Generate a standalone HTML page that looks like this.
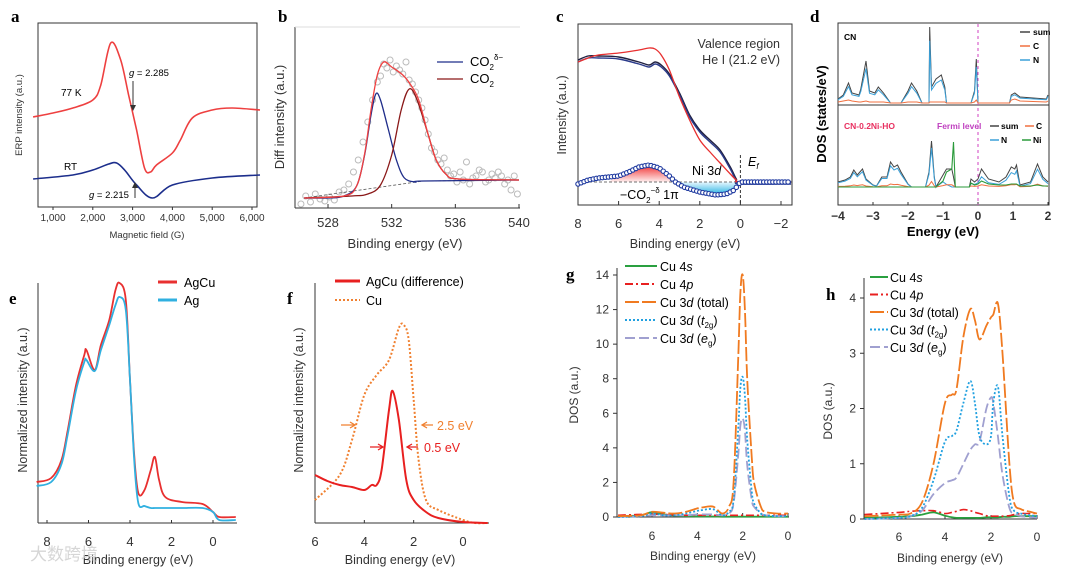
<!DOCTYPE html>
<html><head><meta charset="utf-8">
<style>
html,body{margin:0;padding:0;background:#fff;}
svg{display:block;font-family:"Liberation Sans","Noto Sans CJK SC",sans-serif;}
.lbl{font-family:"Liberation Serif",serif;font-weight:bold;font-size:17px;}
.tk{fill:#333;}
</style></head><body>
<svg id="fig" width="1080" height="572" viewBox="0 0 1080 572" xmlns="http://www.w3.org/2000/svg">
<defs>
<linearGradient id="gr" x1="0" y1="0" x2="0" y2="1"><stop offset="0" stop-color="#f03030"/><stop offset="1" stop-color="#fff0f0"/></linearGradient>
<linearGradient id="gb" x1="0" y1="0" x2="0" y2="1"><stop offset="0" stop-color="#e8f8ff"/><stop offset="1" stop-color="#20b0e0"/></linearGradient>
</defs>
</svg>
<script>
// ---------- panel a data ----------
const aX77=[500,1000,1500,2000,2200,2450,2700,2900,3100,3300,3450,3600,4000,4200,4500,5000,5500,6200];
const aY77=[93,97,102,110,125,167,150,115,80,42,38,45,57,70,92,100,102,100];
const aXRT=[500,1500,2000,2400,2600,2800,3100,3500,4000,5000,6200];
const aYRT=[31,35,40,46,47,40,25,12,25,32,35];
const aTicks=[1000,2000,3000,4000,5000,6000];
const aTickLabels=["1,000","2,000","3,000","4,000","5,000","6,000"];
// ---------- panel b data ----------
const bXBase=[526.5,534,540];
const bYBase=[2,19,20];
const bXBlue=[526.5,528,529,529.8,530.3,530.7,531,531.3,531.8,532.3,532.8,533.5,534,540];
const bYBlue=[2,2,4,14,45,85,106,100,70,40,22,18,19,20];
const bXRed=[526.5,529.5,530.5,531.3,532,532.6,533.1,533.6,534.3,534.8,535.4,536.2,540];
const bYRed=[2,4,6,15,45,90,111,100,65,40,26,21,20];
const bXSum=[526.5,529,529.8,530.3,530.7,531.1,531.5,532,532.7,533.2,533.7,534.3,534.8,535.4,536.2,540];
const bYSum=[2,4,14,46,90,125,138,133,125,115,100,65,40,26,21,20];
const bXPts=[526.3,526.6,526.9,527.2,527.5,527.8,528.1,528.4,528.7,529,529.3,529.6,529.9,530.2,530.5,530.8,531.1,531.3,531.5,531.7,531.9,532.1,532.3,532.5,532.7,532.9,533.1,533.3,533.5,533.7,533.9,534.1,534.3,534.5,534.7,534.9,535.1,535.3,535.5,535.7,535.9,536.1,536.3,536.5,536.7,536.9,537.1,537.3,537.5,537.7,537.9,538.1,538.3,538.5,538.7,538.9,539.1,539.3,539.5,539.7,539.9];
const bYPts=[-4,4,-2,6,1,-1,3,0,8,10,16,28,40,58,78,100,118,124,136,132,140,128,134,130,126,138,120,116,108,100,92,80,66,52,48,40,36,42,30,24,26,18,28,20,38,16,22,24,30,28,18,20,26,22,28,24,16,20,10,24,6];
const bTicks=[528,532,536,540];
// ---------- panel c data ----------
const cX=[8,7.5,7,6,5,4.5,4.2,3.9,3.5,3,2.5,2,1.5,1,0.5,0.2,0,-2.5];
const cYRed=[120,124,127,129,132,134,133,127,112,85,62,42,30,19,8,2,0,0];
const cYDark=[122,126,126,125,120,117,120,117,108,89,67,52,42,32,15,3,0,0];
const cXDiff=[8,7.5,7,6,5.5,5,4.5,4,3.5,3.2,2.8,2,1.2,0.7,0.3,0,-0.5,-2.5];
const cYDiff=[-2,2,4,6,10,15,17,14,6,0,-5,-10,-13,-12,-8,0,0,0];
const cTicks=[8,6,4,2,0,-2];
// ---------- panel d data ----------
const dXTop=[-4,-3.85,-3.7,-3.6,-3.4,-3.35,-3.2,-3.1,-2.95,-2.85,-2.7,-2.5,-2.2,-2.0,-1.9,-1.75,-1.6,-1.4,-1.38,-1.33,-1.2,-1.05,-0.95,-0.9,-0.2,-0.1,-0.05,0,0.9,0.95,1.05,1.2,1.95,2];
const dYTopSum=[4,8,20,10,8,14,42,12,10,16,10,0,0,12,20,12,0,0,76,16,24,28,16,0,0,12,44,0,0,8,10,6,4,8];
const dYTopC=[1,2,3,2,1,1,2,1,1,1,1,0,0,1,1,1,0,0,1,1,1,1,1,0,0,1,3,0,0,3,4,2,1,2];
const dXBot=[-4,-3.8,-3.65,-3.55,-3.45,-3.4,-3.3,-3.2,-3.0,-2.9,-2.75,-2.6,-2.5,-2.4,-2.3,-2.2,-2.0,-1.9,-1.5,-1.4,-1.33,-1.25,-1.2,-1.0,-0.9,-0.75,-0.7,-0.65,-0.25,-0.2,-0.1,0,0.1,0.3,0.6,0.8,0.95,1.05,1.1,1.2,1.5,1.7,1.85,2];
const dYBotSum=[5,7,10,17,12,14,18,8,2,1,10,10,25,20,22,15,3,0,0,15,46,10,0,12,18,18,10,0,0,8,5,8,18,8,5,10,20,18,22,2,5,23,10,5];
const dYBotNi=[0,0,0,0,0,0,0,0,0,0,0,0,0,0,0,0,0,0,0,0,0,0,0,6,15,18,45,0,0,4,2,3,6,3,2,2,3,3,3,1,1,2,1,1];
const dTicks=[-4,-3,-2,-1,0,1,2];
// ---------- panel e data ----------
const eX=[8.5,7.8,7.3,7,6.6,6.2,6.1,5.7,5.4,5,4.7,4.5,4.2,4,3.8,3.6,3.3,3,2.8,2.6,2.3,1.5,0.5,0,-0.3,-1.1];
const eYAgCu=[38,42,60,90,135,165,170,150,175,200,230,237,220,140,65,27,30,50,63,40,23,18,16,8,3,3];
const eYAg=[34,38,56,86,130,158,160,149,170,195,215,223,210,140,60,17,14,12,12,12,12,12,12,8,0,0];
const eTicks=[8,6,4,2,0];
// ---------- panel f data ----------
const fXCu=[6,5,4.5,4,3.5,3,2.6,2.4,2.2,2,1.8,1.5,1,0,-0.5,-1];
const fYCu=[23,48,83,128,148,163,195,198,183,123,63,23,13,3,0,0];
const fXDiff=[6,5.5,5,4.5,4,3.7,3.5,3.3,3,2.85,2.6,2.3,2,1.5,1,0,-1];
const fYDiff=[48,42,38,36,33,38,38,53,113,132,103,43,23,11,5,1,0];
const fTicks=[6,4,2,0];
// ---------- panel g data ----------
const gX=[7.5,6.5,6,5.5,5,4.5,4,3.8,3.3,2.9,2.6,2.4,2.2,2.1,2.0,1.9,1.8,1.6,1.5,1.2,1.0,0.5,0];
const gTotal=[0.05,0.1,0.3,0.25,0.2,0.3,0.5,0.55,0.6,0.2,0.6,2,9,13,14,12,8,3.5,2,0.6,0.3,0.2,0.2];
const gT2g=[0,0.05,0.2,0.1,0.1,0.2,0.35,0.4,0.45,0.1,0.3,1,5,7.5,8.1,7,4.5,1.5,0.8,0.2,0.1,0.05,0.05];
const gEg=[0,0.05,0.1,0.1,0.1,0.1,0.15,0.15,0.15,0.1,0.2,0.8,3.5,5.3,5.7,5,3,1,0.6,0.2,0.1,0.05,0.05];
const g4s=[0.02,0.1,0.28,0.15,0.08,0.05,0.03,0.03,0.03,0.02,0.02,0.02,0.02,0.02,0.02,0.02,0.02,0.02,0.02,0.02,0.02,0.02,0.02];
const g4p=[0.1,0.15,0.15,0.15,0.12,0.1,0.1,0.1,0.1,0.1,0.1,0.1,0.1,0.1,0.1,0.1,0.1,0.1,0.1,0.1,0.1,0.1,0.1];
const gXTicks=[6,4,2,0];
const gYTicks=[0,2,4,6,8,10,12,14];
// ---------- panel h data ----------
const hX=[7.5,6,5.5,5,4.5,4,3.7,3.5,3.2,2.9,2.7,2.5,2.2,2.0,1.9,1.7,1.5,1.2,1.0,0.7,0.5,0];
const hTotal=[0.05,0.08,0.1,0.3,1,2.1,2.25,2.35,3.3,3.8,3.6,3.25,3.5,3.65,3.7,3.9,3,1,0.3,0.18,0.15,0.1];
const hT2g=[0,0.02,0.05,0.2,0.7,1.4,1.5,1.6,2.1,2.5,2.1,1.5,1.35,1.5,2.1,2.4,1.5,0.4,0.15,0.1,0.08,0.05];
const hEg=[0,0.02,0.05,0.15,0.45,0.65,0.7,0.75,1,1.25,1.35,1.4,2,2.2,2.1,1.5,0.8,0.2,0.1,0.05,0.04,0.02];
const h4p=[0.08,0.12,0.14,0.15,0.15,0.1,0.12,0.14,0.17,0.15,0.12,0.1,0.06,0.05,0.05,0.05,0.05,0.06,0.08,0.1,0.1,0.1];
const h4s=[0.02,0.04,0.05,0.08,0.12,0.06,0.03,0.02,0.02,0.02,0.02,0.02,0.03,0.03,0.03,0.03,0.04,0.04,0.05,0.05,0.05,0.05];
const hXTicks=[6,4,2,0];
const hYTicks=[0,1,2,3,4];

const NS="http://www.w3.org/2000/svg";
const svg=document.getElementById('fig');
function el(tag,attrs,parent){const e=document.createElementNS(NS,tag);for(const k in attrs)e.setAttribute(k,attrs[k]);(parent||svg).appendChild(e);return e;}
function txt(x,y,s,attrs){const t=el('text',Object.assign({x:x,y:y},attrs||{}));t.innerHTML=s;return t;}
function pathD(xs,ys,sx,sy,smooth){
  const P=xs.map((x,i)=>[sx(x),sy(ys[i])]);
  let d='M'+P[0][0].toFixed(1)+','+P[0][1].toFixed(1);
  for(let i=1;i<P.length;i++){
    if(!smooth){d+='L'+P[i][0].toFixed(1)+','+P[i][1].toFixed(1);continue;}
    const p0=P[i-2]||P[i-1],p1=P[i-1],p2=P[i],p3=P[i+1]||P[i];
    const c1=[p1[0]+(p2[0]-p0[0])/6,p1[1]+(p2[1]-p0[1])/6],c2=[p2[0]-(p3[0]-p1[0])/6,p2[1]-(p3[1]-p1[1])/6];
    d+='C'+c1.map(v=>v.toFixed(1))+' '+c2.map(v=>v.toFixed(1))+' '+p2[0].toFixed(1)+','+p2[1].toFixed(1);
  }
  return d;
}
function series(name,xs,ys,sx,sy,style,smooth){
  const p=el('path',Object.assign({d:pathD(xs,ys,sx,sy,smooth!==false),fill:'none'},style));
  
  
  return p;
}
function lin(d0,d1,r0,r1){return v=>r0+(v-d0)*(r1-r0)/(d1-d0);}
function xticks(vals,labels,sx,y0,ly,name,len,fs,fw){
  vals.forEach((v,i)=>{
    const l=el('line',{x1:sx(v),x2:sx(v),y1:y0,y2:y0+(len||4),stroke:'#333','stroke-width':1});
    
    
    const t=txt(sx(v),ly,labels?labels[i]:String(v).replace('-','−'),{'text-anchor':'middle',class:'tk','font-size':(fs||11)+'px','font-weight':fw||'normal'});
    
    
  });
}
function yticks(vals,sy,x0,name,fs){
  vals.forEach(v=>{
    const l=el('line',{x1:x0-4,x2:x0,y1:sy(v),y2:sy(v),stroke:'#333'});
    
    
    const t=txt(x0-8,sy(v)+4,String(v),{'text-anchor':'end',class:'tk','font-size':(fs||11)+'px'});
    
    
  });
}
function label(x,y,s,name,attrs){const t=txt(x,y,s,attrs);return t;}
function vlabel(cx,cy,s,name,attrs){return label(0,0,s,name,Object.assign({transform:`translate(${cx},${cy}) rotate(-90)`,'text-anchor':'middle'},attrs||{}));}
function rect(x,y,w,h,name){const r=el('rect',{x:x,y:y,width:w,height:h,fill:'none',stroke:'#333','stroke-width':1});}

// ===== Panel a =====
label(11,22,'a','panel-label-a',{class:'lbl'});
rect(38,23,219,184,'plot-frame-a');
const ax=lin(1000,6000,53,252), ay=v=>210-v;
xticks(aTicks,aTickLabels,ax,207,221,'a-x',3,10);
label(147,238,'Magnetic field (G)','x-axis-title-a',{'text-anchor':'middle','font-size':'9.5px',fill:'#333'});
vlabel(22,115,'ERP intensity (a.u.)','y-axis-title-a',{'font-size':'9.5px',fill:'#333'});
series('series-77k',aX77,aY77,ax,ay,{stroke:'#ee4040','stroke-width':1.6});
series('series-rt',aXRT,aYRT,ax,ay,{stroke:'#1c2e8c','stroke-width':1.6});
label(61,96,'77 K','label-77k',{'font-size':'10px'});
label(64,170,'RT','label-rt',{'font-size':'10px'});
label(129,76,'<tspan font-style="italic">g</tspan> = 2.285','label-g-77k',{'font-size':'9.5px'});
el('line',{x1:133,y1:81,x2:133,y2:108,stroke:'#333'});
el('path',{d:'M130,105 L133,111 L136,105 Z',fill:'#333'});
label(89,198,'<tspan font-style="italic">g</tspan> = 2.215','label-g-rt',{'font-size':'9.5px'});
el('line',{x1:135,y1:198,x2:135,y2:185,stroke:'#333'});
el('path',{d:'M132,188 L135,182 L138,188 Z',fill:'#333'});

// ===== Panel b =====
label(278,22,'b','panel-label-b',{class:'lbl'});
el('line',{x1:295,y1:27,x2:295,y2:208,stroke:'#333'});
el('line',{x1:295,y1:208,x2:520,y2:208,stroke:'#333'});
el('line',{x1:295,y1:27,x2:520,y2:27,stroke:'#ddd'});
const bx=lin(528,540,328,519), by=v=>200-v;
xticks(bTicks,null,bx,208,227,'b-x',-4,13);
label(405,248,'Binding energy (eV)','x-axis-title-b',{'text-anchor':'middle','font-size':'13px',fill:'#333'});
vlabel(284,117,'Diff intensity (a.u.)','y-axis-title-b',{'font-size':'13px',fill:'#333'});
bXPts.forEach((x,i)=>{const c=el('circle',{cx:bx(x),cy:by(bYPts[i]),r:3,fill:'none',stroke:'#bbb','stroke-width':1});
  
  });
series('b-baseline',bXBase,bYBase,bx,by,{stroke:'#555','stroke-dasharray':'3,2','stroke-width':0.8},false);
series('series-co2-delta',bXBlue,bYBlue,bx,by,{stroke:'#1f2d8a','stroke-width':1.3});
series('series-co2',bXRed,bYRed,bx,by,{stroke:'#8a1818','stroke-width':1.3});
series('series-b-sum',bXSum,bYSum,bx,by,{stroke:'#f04040','stroke-width':1.3});
el('line',{x1:437,x2:463,y1:62,y2:62,stroke:'#1f2d8a','stroke-width':1.3});
label(470,66,'CO<tspan font-size="8" dy="4">2</tspan><tspan font-size="8" dy="-10">δ−</tspan>','legend-co2-delta',{'font-size':'13px'});
el('line',{x1:437,x2:463,y1:79,y2:79,stroke:'#8a1818','stroke-width':1.3});
label(470,83,'CO<tspan font-size="8" dy="4">2</tspan>','legend-co2',{'font-size':'13px'});

// ===== Panel c =====
label(556,22,'c','panel-label-c',{class:'lbl'});
rect(578,24,214,181,'plot-frame-c');
const cx=lin(8,-2,578,781), cy=v=>182-v;
xticks(cTicks,null,cx,205,228,'c-x',-4,13);
label(685,248,'Binding energy (eV)','x-axis-title-c',{'text-anchor':'middle','font-size':'12.5px',fill:'#333'});
vlabel(566,115,'Intensity (a.u.)','y-axis-title-c',{'font-size':'12.5px',fill:'#333'});
(function(){
  let d1='M'+cx(6.5)+','+cy(0), d2='M'+cx(3.2)+','+cy(0);
  cXDiff.forEach((x,i)=>{if(x<=6.5&&x>=3.2)d1+='L'+cx(x)+','+cy(cYDiff[i]);if(x<=3.2&&x>=0)d2+='L'+cx(x)+','+cy(cYDiff[i]);});
  const f1=el('path',{d:d1+'Z',fill:'url(#gr)'});
  const f2=el('path',{d:d2+'Z',fill:'url(#gb)'});
})();
el('line',{x1:584,x2:792,y1:cy(0),y2:cy(0),stroke:'#444','stroke-dasharray':'3,2','stroke-width':0.8});
el('line',{x1:cx(0),x2:cx(0),y1:155,y2:205,stroke:'#333','stroke-dasharray':'3,2','stroke-width':1});
series('series-c-dark1',cX,cYDark,cx,cy,{stroke:'#202040','stroke-width':1.4});
series('series-c-dark2',cX,cYDark.map(v=>v-2),cx,cy,{stroke:'#2a3a8a','stroke-width':1.4});
series('series-c-red',cX,cYRed,cx,cy,{stroke:'#e83030','stroke-width':1.3});
series('series-c-diff',cXDiff,cYDiff,cx,cy,{stroke:'#1f3aa0','stroke-width':1.2});
for(let e=8;e>=-2.5;e-=0.15){let k=0;while(k<cXDiff.length-2&&cXDiff[k+1]>e)k++;
  const t=(e-cXDiff[k])/(cXDiff[k+1]-cXDiff[k]);const v=cYDiff[k]+t*(cYDiff[k+1]-cYDiff[k]);
  const c=el('circle',{cx:cx(e),cy:cy(v),r:2.2,fill:'#fff',stroke:'#1f3aa0','stroke-width':1.1});
  
  }
label(780,48,'Valence region','label-valence',{'text-anchor':'end','font-size':'12.5px',fill:'#333'});
label(780,64,'He I (21.2 eV)','label-he',{'text-anchor':'end','font-size':'12.5px',fill:'#333'});
label(692,175,'Ni 3<tspan font-style="italic">d</tspan>','label-ni3d',{'font-size':'12.5px'});
label(748,166,'<tspan font-style="italic">E</tspan><tspan font-size="8" dy="3" font-style="italic">f</tspan>','label-ef',{'font-size':'12.5px'});
label(620,199,'−CO<tspan font-size="8" dy="4">2</tspan><tspan font-size="8" dy="-10">−δ</tspan><tspan dy="6"> 1π</tspan>','label-co2-pi',{'font-size':'12.5px'});

// ===== Panel d =====
label(810,22,'d','panel-label-d',{class:'lbl'});
rect(838,23,211,182,'plot-frame-d');
el('line',{x1:838,x2:1049,y1:105,y2:105,stroke:'#333'});
const dx=lin(-4,2,838,1048), dyT=v=>103-v, dyB=v=>187-v;
xticks(dTicks,null,dx,205,220,'d-x',-3,12,'bold');
label(943,236,'Energy (eV)','x-axis-title-d',{'text-anchor':'middle','font-size':'13px','font-weight':'bold'});
vlabel(826,114,'DOS (states/eV)','y-axis-title-d',{'font-size':'13px','font-weight':'bold'});
el('line',{x1:dx(0),x2:dx(0),y1:24,y2:205,stroke:'#d040c0','stroke-dasharray':'3,3','stroke-width':1});
series('d-top-sum',dXTop,dYTopSum,dx,dyT,{stroke:'#444','stroke-width':1},false);
series('d-top-n',dXTop,dYTopSum.map(v=>v*0.82),dx,dyT,{stroke:'#3aa0d8','stroke-width':1},false);
series('d-top-c',dXTop,dYTopC,dx,dyT,{stroke:'#f07040','stroke-width':1},false);
series('d-bot-sum',dXBot,dYBotSum,dx,dyB,{stroke:'#444','stroke-width':1},false);
series('d-bot-n',dXBot,dYBotSum.map((v,i)=>Math.max(0,(v-dYBotNi[i])*0.85)),dx,dyB,{stroke:'#3aa0d8','stroke-width':1},false);
series('d-bot-c',dXBot,dYBotSum.map(v=>v*0.12),dx,dyB,{stroke:'#f07040','stroke-width':1},false);
series('d-bot-ni',dXBot,dYBotNi,dx,dyB,{stroke:'#2a9a3a','stroke-width':1.1},false);
label(844,40,'CN','label-cn',{'font-size':'8.5px','font-weight':'bold'});
[['sum','#444',35],['C','#f07040',49],['N','#3aa0d8',63]].forEach(r=>{el('line',{x1:1020,x2:1030,y1:r[2]-3,y2:r[2]-3,stroke:r[1],'stroke-width':1.5});label(1033,r[2],r[0],'legend-d-top-'+r[0],{'font-size':'8.5px','font-weight':'bold'});});
label(844,129,'CN-0.2Ni-HO','label-cn-ni',{'font-size':'8.5px','font-weight':'bold',fill:'#e83060'});
label(937,129,'Fermi level','label-fermi',{'font-size':'8.5px','font-weight':'bold',fill:'#c040c0'});
[['sum','#444',1001,129],['C','#f07040',1036,129],['N','#3aa0d8',1001,143],['Ni','#2a9a3a',1033,143]].forEach(r=>{el('line',{x1:r[2]-11,x2:r[2]-2,y1:r[3]-3,y2:r[3]-3,stroke:r[1],'stroke-width':1.5});label(r[2],r[3],r[0],'legend-d-bot-'+r[0],{'font-size':'8.5px','font-weight':'bold'});});

// ===== Panel e =====
label(9,304,'e','panel-label-e',{class:'lbl'});
el('line',{x1:38,y1:283,x2:38,y2:523,stroke:'#333'});
el('line',{x1:38,y1:523,x2:237,y2:523,stroke:'#333'});
const ex=lin(8,0,47,213), ey=v=>520-v;
xticks(eTicks,null,ex,523,546,'e-x',-3,13);
label(138,564,'Binding energy (eV)','x-axis-title-e',{'text-anchor':'middle','font-size':'12.5px',fill:'#333'});
vlabel(27,400,'Normalized intensity (a.u.)','y-axis-title-e',{'font-size':'12.5px',fill:'#333'});
series('series-agcu',eX,eYAgCu,ex,ey,{stroke:'#e83030','stroke-width':1.8});
series('series-ag',eX,eYAg,ex,ey,{stroke:'#30b0e0','stroke-width':1.8});
el('line',{x1:158,x2:177,y1:282,y2:282,stroke:'#e83030','stroke-width':3});
label(184,287,'AgCu','legend-agcu',{'font-size':'12.5px'});
el('line',{x1:158,x2:177,y1:300,y2:300,stroke:'#30b0e0','stroke-width':3});
label(184,305,'Ag','legend-ag',{'font-size':'12.5px'});

// ===== Panel f =====
label(287,304,'f','panel-label-f',{class:'lbl'});
el('line',{x1:315,y1:283,x2:315,y2:523,stroke:'#333'});
el('line',{x1:315,y1:523,x2:489,y2:523,stroke:'#333'});
const fx=lin(6,0,315,463), fy=v=>523-v;
xticks(fTicks,null,fx,523,546,'f-x',-3,13);
label(400,564,'Binding energy (eV)','x-axis-title-f',{'text-anchor':'middle','font-size':'12.5px',fill:'#333'});
vlabel(303,400,'Normalized intensity (a.u.)','y-axis-title-f',{'font-size':'12.5px',fill:'#333'});
series('series-cu',fXCu,fYCu,fx,fy,{stroke:'#f08030','stroke-width':2,'stroke-dasharray':'2,2'});
series('series-agcu-diff',fXDiff,fYDiff,fx,fy,{stroke:'#e82020','stroke-width':2});
el('line',{x1:335,x2:360,y1:281,y2:281,stroke:'#e82020','stroke-width':3});
label(366,286,'AgCu (difference)','legend-agcu-diff',{'font-size':'12.5px'});
el('line',{x1:335,x2:360,y1:300,y2:300,stroke:'#f08030','stroke-width':2,'stroke-dasharray':'2,2'});
label(366,305,'Cu','legend-cu',{'font-size':'12.5px'});
el('path',{d:'M341,425 L354,425 M350,422 L355,425 L350,428 M433,425 L423,425 M427,422 L422,425 L427,428',stroke:'#f08030','stroke-width':1.3,fill:'none'});
label(437,430,'2.5 eV','label-2-5ev',{'font-size':'12.5px',fill:'#f08030'});
el('path',{d:'M370,447 L382,447 M378,444 L383,447 L378,450 M418,447 L408,447 M412,444 L407,447 L412,450',stroke:'#e82020','stroke-width':1.3,fill:'none'});
label(424,452,'0.5 eV','label-0-5ev',{'font-size':'12.5px',fill:'#e82020'});

// ===== Panel g =====
label(566,280,'g','panel-label-g',{class:'lbl'});
el('line',{x1:617,y1:268,x2:617,y2:517,stroke:'#333'});
el('line',{x1:617,y1:517,x2:789,y2:517,stroke:'#333'});
const gx=lin(6,0,652,788), gy=lin(0,14,517,275);
xticks(gXTicks,null,gx,517,540,'g-x',-4,12);
yticks(gYTicks,gy,617,'g-y',12);
label(703,560,'Binding energy (eV)','x-axis-title-g',{'text-anchor':'middle','font-size':'12px',fill:'#333'});
vlabel(578,395,'DOS (a.u.)','y-axis-title-g',{'font-size':'12px',fill:'#333'});
series('series-g-4s',gX,g4s,gx,gy,{stroke:'#2aa040','stroke-width':1.8});
series('series-g-4p',gX,g4p,gx,gy,{stroke:'#e82020','stroke-width':1.6,'stroke-dasharray':'8,3,2,3'});
series('series-g-eg',gX,gEg,gx,gy,{stroke:'#a0a0d0','stroke-width':1.8,'stroke-dasharray':'10,4'});
series('series-g-t2g',gX,gT2g,gx,gy,{stroke:'#20a0e0','stroke-width':1.8,'stroke-dasharray':'2,2'});
series('series-g-total',gX,gTotal,gx,gy,{stroke:'#f07a20','stroke-width':1.8,'stroke-dasharray':'14,3'});
const gl=[['Cu 4<tspan font-style="italic">s</tspan>',{stroke:'#2aa040'}],['Cu 4<tspan font-style="italic">p</tspan>',{stroke:'#e82020','stroke-dasharray':'8,3,2,3'}],['Cu 3<tspan font-style="italic">d</tspan> (total)',{stroke:'#f07a20','stroke-dasharray':'14,3'}],['Cu 3<tspan font-style="italic">d</tspan> (<tspan font-style="italic">t</tspan><tspan font-size="8" dy="3">2g</tspan><tspan dy="-3">)</tspan>',{stroke:'#20a0e0','stroke-dasharray':'2,2'}],['Cu 3<tspan font-style="italic">d</tspan> (<tspan font-style="italic">e</tspan><tspan font-size="8" dy="3">g</tspan><tspan dy="-3">)</tspan>',{stroke:'#a0a0d0','stroke-dasharray':'10,4'}]];
gl.forEach((r,i)=>{const y=266+i*18;el('line',Object.assign({x1:625,x2:657,y1:y,y2:y,'stroke-width':2},r[1]));label(660,y+5,r[0],'legend-g-'+i,{'font-size':'12.5px'});});

// ===== Panel h =====
label(826,300,'h','panel-label-h',{class:'lbl'});
el('line',{x1:864,y1:278,x2:864,y2:519,stroke:'#333'});
el('line',{x1:864,y1:519,x2:1037,y2:519,stroke:'#333'});
const hx=lin(6,0,899,1037), hy=lin(0,4,519,298);
xticks(hXTicks,null,hx,519,541,'h-x',-4,12);
yticks(hYTicks,hy,864,'h-y',12);
label(950,562,'Binding energy (eV)','x-axis-title-h',{'text-anchor':'middle','font-size':'12px',fill:'#333'});
vlabel(832,411,'DOS (a.u.)','y-axis-title-h',{'font-size':'12px',fill:'#333'});
series('series-h-4s',hX,h4s,hx,hy,{stroke:'#2aa040','stroke-width':1.8});
series('series-h-4p',hX,h4p,hx,hy,{stroke:'#e82020','stroke-width':1.6,'stroke-dasharray':'8,3,2,3'});
series('series-h-eg',hX,hEg,hx,hy,{stroke:'#a0a0d0','stroke-width':1.8,'stroke-dasharray':'10,4'});
series('series-h-t2g',hX,hT2g,hx,hy,{stroke:'#20a0e0','stroke-width':1.8,'stroke-dasharray':'2,2'});
series('series-h-total',hX,hTotal,hx,hy,{stroke:'#f07a20','stroke-width':1.8,'stroke-dasharray':'14,3'});
gl.forEach((r,i)=>{const y=277+i*17.5;el('line',Object.assign({x1:870,x2:888,y1:y,y2:y,'stroke-width':2},r[1]));label(890,y+5,r[0],'legend-h-'+i,{'font-size':'12.5px'});});

// watermark
label(30,560,'大数跨境','watermark',{'font-size':'17px',fill:'#ccc',opacity:0.8});
</script>
</body></html>
